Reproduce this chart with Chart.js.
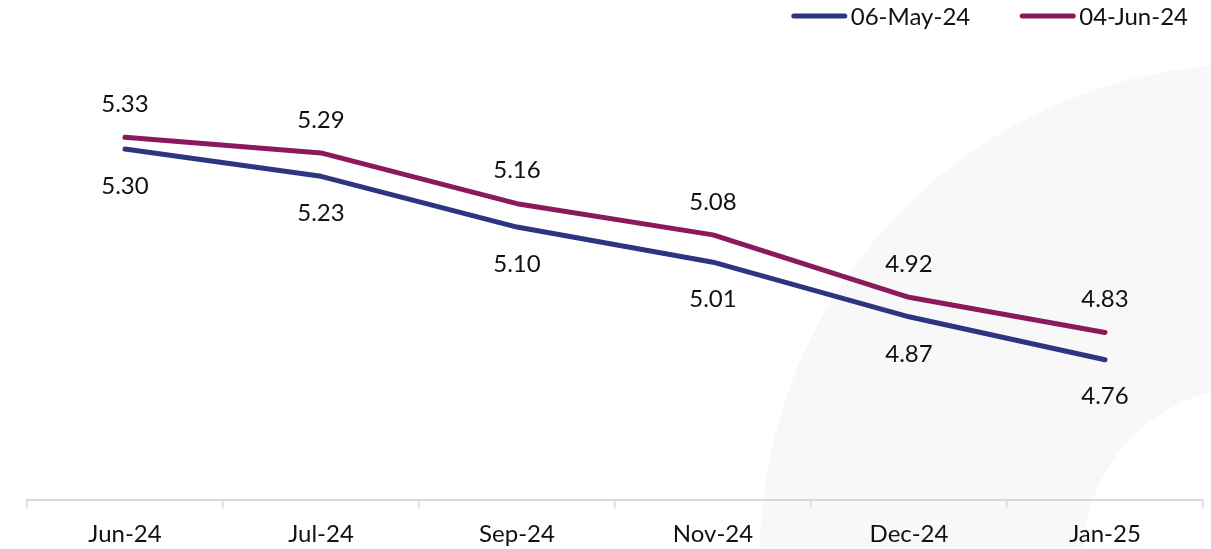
<!DOCTYPE html>
<html>
<head>
<meta charset="utf-8">
<script src="https://cdn.jsdelivr.net/npm/chart.js@4"></script>
<style>
  html, body { margin: 0; padding: 0; background: #fff; }
  #wrap { width: 1211px; height: 549px; position: relative; }
</style>
</head>
<body>
<div id="wrap"><canvas id="chart"></canvas></div>
<script>
const months = ['Jun-24', 'Jul-24', 'Sep-24', 'Nov-24', 'Dec-24', 'Jan-25'];
const may06 = [5.30, 5.23, 5.10, 5.01, 4.87, 4.76];
const jun04 = [5.33, 5.29, 5.16, 5.08, 4.92, 4.83];

const BLUE = '#2c3580';
const PURPLE = '#8b1a5c';
const FONT = 'Lato, "Open Sans", sans-serif';

// faint ring in the lower right behind the lines
const backdrop = {
  id: 'backdrop',
  beforeDraw(chart) {
    const ctx = chart.ctx;
    ctx.save();
    ctx.fillStyle = '#f8f8f8';
    ctx.beginPath();
    ctx.arc(1252, 556, 492, 0, Math.PI * 2);
    ctx.arc(1252, 556, 169, 0, Math.PI * 2);
    ctx.fill('evenodd');
    ctx.restore();
  }
};

// value labels: newer series above its line, older one below
const valueLabels = {
  id: 'valueLabels',
  afterDatasetsDraw(chart) {
    const ctx = chart.ctx;
    ctx.save();
    ctx.font = '24px ' + FONT;
    ctx.fillStyle = '#111';
    ctx.textAlign = 'center';
    ctx.textBaseline = 'middle';
    chart.data.datasets.forEach((ds, di) => {
      const meta = chart.getDatasetMeta(di);
      const dy = ds.labelAbove ? -33 : 37;
      meta.data.forEach((pt, i) => {
        ctx.fillText(ds.data[i].toFixed(2), pt.x, pt.y + dy);
      });
    });
    ctx.restore();
  }
};

// legend in the top right corner with rounded line keys
const cornerLegend = {
  id: 'cornerLegend',
  afterDraw(chart) {
    const ctx = chart.ctx;
    ctx.save();
    ctx.font = '24px ' + FONT;
    ctx.textBaseline = 'middle';
    ctx.fillStyle = '#111';
    const y = 16;
    let x = 1188;
    const items = chart.data.datasets.slice().reverse();
    items.forEach(ds => {
      const w = ctx.measureText(ds.label).width;
      x -= w;
      ctx.fillText(ds.label, x, y + 1);
      ctx.strokeStyle = ds.borderColor;
      ctx.lineWidth = 5;
      ctx.lineCap = 'round';
      ctx.beginPath();
      ctx.moveTo(x - 6, y);
      ctx.lineTo(x - 57, y);
      ctx.stroke();
      x -= 59 + 50;
    });
    ctx.restore();
  }
};

new Chart(document.getElementById('chart'), {
  type: 'line',
  data: {
    labels: months,
    datasets: [
      {
        label: '06-May-24',
        data: may06,
        borderColor: BLUE,
        backgroundColor: BLUE,
        borderWidth: 5,
        borderCapStyle: 'round',
        borderJoinStyle: 'round',
        pointRadius: 0,
        labelAbove: false
      },
      {
        label: '04-Jun-24',
        data: jun04,
        borderColor: PURPLE,
        backgroundColor: PURPLE,
        borderWidth: 5,
        borderCapStyle: 'round',
        borderJoinStyle: 'round',
        pointRadius: 0,
        labelAbove: true
      }
    ]
  },
  options: {
    responsive: true,
    maintainAspectRatio: false,
    animation: false,
    events: [],
    layout: { padding: { left: 27, right: 8, top: 71, bottom: -12 } },
    plugins: {
      legend: { display: false },
      tooltip: { enabled: false }
    },
    scales: {
      x: {
        offset: true,
        grid: {
          offset: true,
          drawOnChartArea: false,
          drawTicks: true,
          tickLength: 8,
          color: '#d9d9d9',
          lineWidth: 1.5
        },
        border: { color: '#d9d9d9', width: 2 },
        ticks: {
          color: '#111',
          font: { family: FONT, size: 24 },
          padding: 12,
          maxRotation: 0
        }
      },
      y: {
        display: false,
        min: 4.4,
        max: 5.5
      }
    }
  },
  plugins: [backdrop, valueLabels, cornerLegend]
});
</script>
</body>
</html>
